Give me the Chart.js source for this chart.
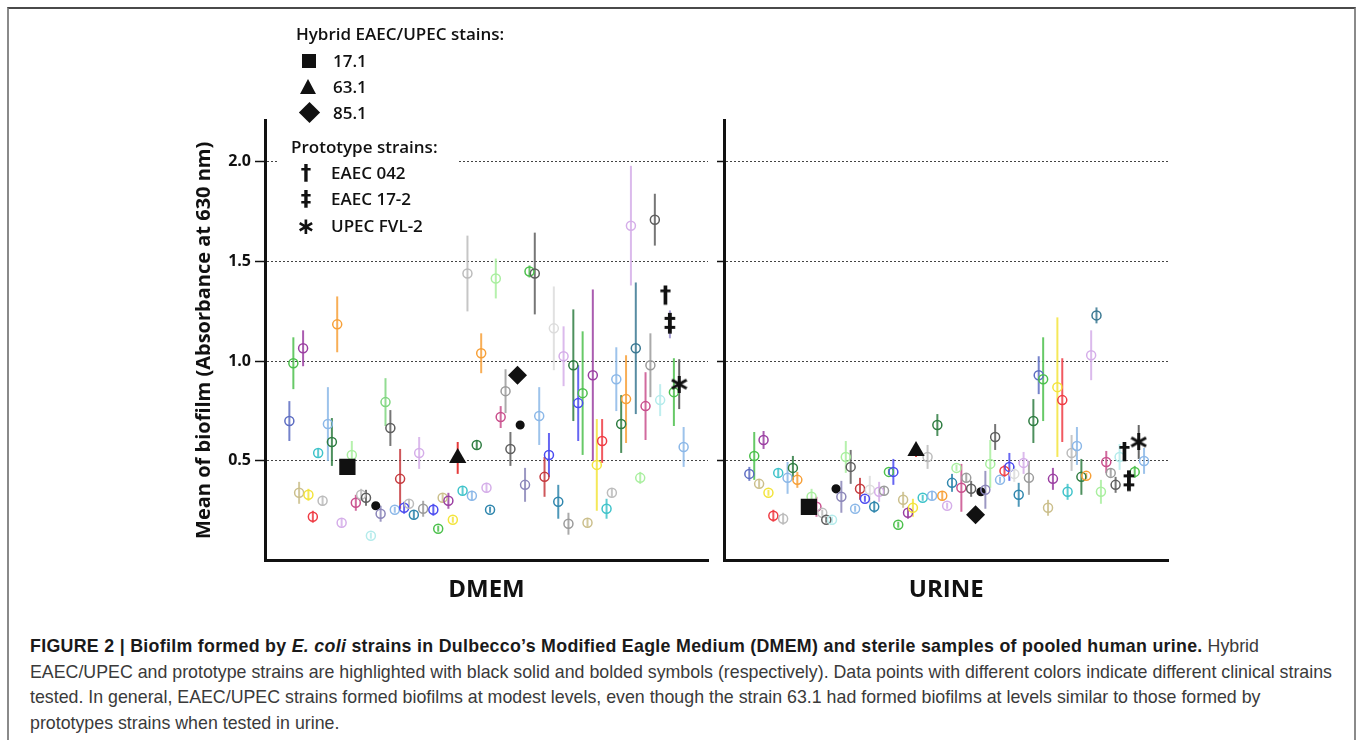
<!DOCTYPE html>
<html>
<head>
<meta charset="utf-8">
<script src="https://cdn.jsdelivr.net/npm/chart.js@4.4.1/dist/chart.umd.min.js"></script>
<style>
  body { margin: 0; background: #fff; width: 1357px; height: 740px; overflow: hidden; position: relative; font-family: 'Open Sans', sans-serif; }
  .frame { position: absolute; left: 7px; top: 7px; width: 1345px; height: 760px; border-top: 2px solid #4a4a4a; border-left: 2px solid #8a8a8a; border-right: 2px solid #8a8a8a; }
  canvas { position: absolute; }
  #dmem { left: 180px; top: 100px; }
  #urine { left: 712px; top: 100px; }
  .legend { position: absolute; left: 277px; top: 18px; width: 181px; height: 220px; background: #fff; }
  .lg { position: absolute; white-space: nowrap; font-weight: 600; font-size: 17px; line-height: 20px; color: #111; }
  .sym { position: absolute; font-family: 'DejaVu Sans', sans-serif; font-weight: bold; color: #111; line-height: 20px; text-align: center; width: 20px; }
  .sq { position: absolute; background: #111; width: 14px; height: 14px; }
  .tri { position: absolute; width: 0; height: 0; border-left: 8.5px solid transparent; border-right: 8.5px solid transparent; border-bottom: 15px solid #111; }
  .dia { position: absolute; background: #111; width: 15px; height: 15px; transform: rotate(45deg); }
  .caption { position: absolute; left: 30px; top: 634px; font-family: 'Liberation Sans', Arial, sans-serif; font-size: 17.8px; line-height: 25.5px; color: #3a3a3a; white-space: nowrap; }
  .caption b { color: #1a1a1a; letter-spacing: 0.3px; }
</style>
</head>
<body>
<div class="frame"></div>
<canvas id="dmem" width="550" height="520"></canvas>
<canvas id="urine" width="468" height="520"></canvas>

<div class="legend">
  <div class="lg" style="left:19px; top:6px;">Hybrid EAEC/UPEC stains:</div>
  <div class="sq" style="left:25px; top:36px;"></div>
  <div class="lg" style="left:56px; top:33px;">17.1</div>
  <div class="tri" style="left:23px; top:61px;"></div>
  <div class="lg" style="left:56px; top:59px;">63.1</div>
  <div class="dia" style="left:25px; top:87px;"></div>
  <div class="lg" style="left:56px; top:85px;">85.1</div>
  <div class="lg" style="left:14px; top:119px;">Prototype strains:</div>
  <div class="sym" style="left:19px; top:145px; font-size:21px;">†</div>
  <div class="lg" style="left:54px; top:145px;">EAEC 042</div>
  <div class="sym" style="left:19px; top:171px; font-size:21px;">‡</div>
  <div class="lg" style="left:54px; top:171px;">EAEC 17-2</div>
  <div class="sym" style="left:19px; top:198px; font-size:23px;">∗</div>
  <div class="lg" style="left:54px; top:198px;">UPEC FVL-2</div>
</div>

<div class="caption"><b>FIGURE 2 | Biofilm formed by <i>E. coli</i> strains in Dulbecco’s Modified Eagle Medium (DMEM) and sterile samples of pooled human urine.</b> Hybrid<br>EAEC/UPEC and prototype strains are highlighted with black solid and bolded symbols (respectively). Data points with different colors indicate different clinical strains<br>tested. In general, EAEC/UPEC strains formed biofilms at modest levels, even though the strain 63.1 had formed biofilms at levels similar to those formed by<br>prototypes strains when tested in urine.</div>

<script>
// y axis
const yTicks = [0.5, 1.0, 1.5, 2.0];

// clinical strains, DMEM (x = strain position along the panel, 0-100)
const dmemX = [5.5, 6.4, 7.7, 8.6, 9.8, 10.8, 12.0, 13.0, 14.2, 15.1, 16.3, 17.3, 19.6, 20.5, 21.7, 22.8, 23.9, 25.0, 26.1, 27.2,
  28.3, 29.3, 30.5, 31.4, 32.5, 33.6, 34.8, 35.7, 38.0, 39.1, 40.1, 41.4, 42.4, 44.6, 45.7, 46.7, 47.8, 48.8, 50.0, 50.8,
  52.1, 53.2, 54.3, 55.4, 57.6, 58.7, 59.7, 60.9, 61.9, 63.1, 64.1, 65.2, 66.2, 67.4, 68.5, 69.6, 70.7, 71.7, 72.8, 74.0,
  74.9, 76.1, 77.1, 78.3, 79.3, 80.4, 81.5, 82.6, 83.7, 84.7, 85.9, 87.0, 88.0, 89.2, 92.3, 94.5];
const dmemMean = [0.70, 0.99, 0.34, 1.065, 0.33, 0.22, 0.54, 0.30, 0.685, 0.595, 1.185, 0.19, 0.53, 0.29, 0.33, 0.315, 0.125, 0.275, 0.235, 0.795,
  0.665, 0.255, 0.41, 0.265, 0.285, 0.23, 0.54, 0.26, 0.255, 0.16, 0.315, 0.30, 0.205, 0.35, 1.44, 0.325, 0.58, 1.04, 0.365, 0.255,
  1.415, 0.72, 0.85, 0.56, 0.68, 0.38, 1.45, 1.44, 0.725, 0.42, 0.53, 1.165, 0.295, 1.025, 0.185, 0.98, 0.79, 0.84, 0.19, 0.93,
  0.48, 0.60, 0.26, 0.34, 0.91, 0.685, 0.81, 1.68, 1.065, 0.415, 0.775, 0.98, 1.71, 0.805, 0.845, 0.57];
const dmemErr = [0.10, 0.13, 0.055, 0.09, 0.03, 0.03, 0.02, 0.025, 0.185, 0.12, 0.14, 0.02, 0.07, 0.04, 0.03, 0.04, 0.015, 0, 0.04, 0.12,
  0.09, 0.015, 0.15, 0.03, 0.02, 0.02, 0.08, 0.04, 0.03, 0.015, 0.02, 0.04, 0.015, 0.02, 0.19, 0.025, 0.02, 0.10, 0.025, 0.015,
  0.10, 0.055, 0.11, 0.085, 0, 0.085, 0.03, 0.205, 0.145, 0.10, 0.11, 0.21, 0.085, 0.15, 0.055, 0.28, 0.19, 0.31, 0.02, 0.43,
  0.23, 0.11, 0.05, 0.02, 0.16, 0.145, 0.22, 0.30, 0.33, 0.03, 0.17, 0.16, 0.13, 0.08, 0.17, 0.10];
const dmemStrain = ['slate', 'green', 'khaki', 'purple', 'yellow', 'red', 'cyan', 'ltgray', 'ltblue', 'dkgreen', 'orange', 'lavender', 'ltgreen', 'magenta', 'ltgray', 'dkgray', 'palecyan', 'black', 'slatepurple', 'green2',
  'dkgray', 'ltblue', 'dkred', 'blue', 'ltgray', 'teal', 'lavender', 'gray', 'blue', 'green', 'khaki', 'purple', 'yellow', 'cyan', 'ltgray', 'ltblue', 'dkgreen', 'orange', 'lavender', 'teal',
  'ltgreen', 'magenta', 'gray', 'dkgray', 'black', 'slatepurple', 'green', 'dkgray', 'ltblue', 'dkred', 'blue', 'vltgray', 'teal', 'lavender', 'gray', 'dkgreen', 'blue', 'green', 'khaki', 'purple',
  'yellow', 'red', 'cyan', 'ltgray', 'ltblue', 'dkgreen', 'orange', 'lavender', 'steel', 'ltgreen', 'magenta', 'gray', 'dkgray', 'palecyan', 'green', 'ltblue'];

// clinical strains, urine
const urineX = [5.7, 6.8, 7.9, 8.9, 10.0, 11.1, 12.2, 13.3, 14.3, 15.5, 16.5, 19.7, 20.8, 22.1, 23.0, 24.3, 25.2, 26.4, 27.4, 28.5,
  29.5, 30.6, 31.7, 32.8, 33.8, 34.9, 36.0, 37.1, 38.1, 39.2, 40.3, 41.4, 42.5, 44.7, 45.8, 46.8, 48.0, 49.1, 50.2, 51.3,
  52.3, 53.4, 54.5, 55.6, 57.8, 58.8, 59.9, 61.0, 62.1, 63.1, 64.2, 65.3, 66.3, 67.4, 68.6, 69.6, 70.8, 71.8, 72.9, 74.0,
  75.0, 76.1, 77.3, 78.2, 79.4, 80.4, 81.5, 82.6, 83.8, 84.8, 86.0, 87.0, 88.1, 89.0, 92.4, 94.5];
const urineMean = [0.435, 0.525, 0.385, 0.605, 0.34, 0.225, 0.44, 0.21, 0.415, 0.465, 0.405, 0.32, 0.27, 0.24, 0.205, 0.205, 0.36, 0.32, 0.52, 0.47,
  0.26, 0.36, 0.31, 0.355, 0.27, 0.345, 0.35, 0.445, 0.445, 0.18, 0.305, 0.24, 0.265, 0.315, 0.52, 0.325, 0.68, 0.325, 0.275, 0.39,
  0.465, 0.365, 0.415, 0.36, 0.345, 0.355, 0.485, 0.62, 0.405, 0.45, 0.47, 0.435, 0.33, 0.49, 0.415, 0.70, 0.93, 0.91, 0.265, 0.41,
  0.87, 0.805, 0.345, 0.54, 0.575, 0.42, 0.425, 1.03, 1.23, 0.345, 0.495, 0.44, 0.38, 0.52, 0.445, 0.50];
const urineErr = [0.035, 0.12, 0.02, 0.045, 0.015, 0.03, 0.02, 0.03, 0.08, 0.06, 0.04, 0.04, 0.05, 0.015, 0.015, 0.015, 0, 0.08, 0.08, 0.085,
  0.015, 0.055, 0.015, 0.07, 0.03, 0.05, 0.02, 0.015, 0.065, 0.015, 0.04, 0.03, 0.045, 0.015, 0.06, 0.02, 0.055, 0.02, 0.015, 0.045,
  0.015, 0.12, 0.02, 0.04, 0, 0.095, 0.12, 0.065, 0.015, 0.03, 0.07, 0.04, 0.06, 0.055, 0.085, 0.11, 0.095, 0.21, 0.04, 0.055,
  0.35, 0.21, 0.04, 0.09, 0.095, 0.09, 0.015, 0.125, 0.04, 0.06, 0.055, 0.02, 0.04, 0.065, 0.03, 0.065];
const urineStrain = ['slate', 'green', 'khaki', 'purple', 'yellow', 'red', 'cyan', 'ltgray', 'ltblue', 'dkgreen', 'orange', 'ltgreen', 'magenta', 'ltgray', 'dkgray', 'palecyan', 'black', 'slatepurple', 'ltgreen', 'dkgray',
  'ltblue', 'dkred', 'blue', 'vltgray', 'teal', 'lavender', 'gray', 'green', 'blue', 'green', 'khaki', 'purple', 'yellow', 'cyan', 'ltgray', 'ltblue', 'dkgreen', 'orange', 'lavender', 'teal',
  'ltgreen', 'magenta', 'gray', 'dkgray', 'black', 'slatepurple', 'ltgreen', 'dkgray', 'ltblue', 'red', 'blue', 'vltgray', 'teal', 'lavender', 'gray', 'dkgreen', 'slate', 'green', 'khaki', 'purple',
  'yellow', 'red', 'cyan', 'ltgray', 'ltblue', 'dkgreen', 'orange', 'lavender', 'steel', 'ltgreen', 'magenta', 'gray', 'dkgray', 'palecyan', 'green', 'ltblue'];

// hybrid EAEC/UPEC strains
const hybridLabels = ['17.1', '63.1', '85.1'];
const hybridDmemX = [18.6, 43.5, 57.0];
const hybridDmem = [0.47, 0.515, 0.93];
const hybridDmemErr = [0, 0.08, 0];
const hybridUrineX = [19.1, 43.2, 56.6];
const hybridUrine = [0.27, 0.55, 0.23];
const hybridUrineErr = [0, 0.03, 0];

// prototype strains
const protoLabels = ['EAEC 042', 'EAEC 17-2', 'UPEC FVL-2'];
const protoDmemX = [90.4, 91.4, 93.5];
const protoDmem = [1.325, 1.185, 0.885];
const protoDmemErr = [0.03, 0.07, 0.125];
const protoUrineX = [90.1, 91.1, 93.3];
const protoUrine = [0.54, 0.395, 0.595];
const protoUrineErr = [0.03, 0.04, 0.085];

const palette = {
  slate: '#5d6dc2', green: '#4cc04c', green2: '#7fd67f', khaki: '#cbbf8c', purple: '#9b3fa2', yellow: '#f3e43c',
  red: '#ef3c44', cyan: '#3fc3ca', ltgray: '#bcbcbc', vltgray: '#dcdcdc', ltblue: '#8cb8e8', dkgreen: '#2f7d42',
  orange: '#f7a038', lavender: '#d5aee9', ltgreen: '#a9ef9f', magenta: '#c9508d', dkgray: '#5e5e5e', palecyan: '#b4ebeb',
  black: '#111111', slatepurple: '#8b86b9', dkred: '#c53a3e', blue: '#4b4bf0', teal: '#2f86ad', gray: '#9b9b9b', steel: '#3a7892'
};

Chart.defaults.font.family = "'Open Sans', sans-serif";

function glyph(ch, size) {
  const c = document.createElement('canvas');
  c.width = Math.ceil(size * 0.8);
  c.height = Math.ceil(size * 1.1);
  const g = c.getContext('2d');
  g.font = 'bold ' + size + 'px "DejaVu Sans"';
  g.fillStyle = '#111';
  g.textAlign = 'center';
  g.textBaseline = 'middle';
  g.fillText(ch, c.width / 2, c.height / 2);
  return c;
}

function asterisk(size) {
  const c = document.createElement('canvas');
  c.width = size; c.height = size;
  const g = c.getContext('2d');
  g.strokeStyle = '#111';
  g.lineWidth = 3;
  for (let k = 0; k < 3; k++) {
    const a = Math.PI / 2 + k * Math.PI / 3;
    g.beginPath();
    g.moveTo(size / 2 - Math.cos(a) * size / 2, size / 2 - Math.sin(a) * size / 2);
    g.lineTo(size / 2 + Math.cos(a) * size / 2, size / 2 + Math.sin(a) * size / 2);
    g.stroke();
  }
  return c;
}

const protoStyles = [glyph('†', 23), glyph('‡', 24), asterisk(17)];

// vertical error bars, drawn through the chart's own scales
const errorBars = {
  id: 'errorBars',
  beforeDatasetsDraw(chart) {
    const { ctx, scales: { x, y } } = chart;
    chart.data.datasets.forEach(ds => {
      if (!ds.errors) return;
      ctx.save();
      ctx.lineWidth = 2;
      ds.data.forEach((p, i) => {
        const e = ds.errors[i];
        if (!e) return;
        const px = x.getPixelForValue(p.x);
        ctx.strokeStyle = ds.errorColor[i];
        ctx.beginPath();
        ctx.moveTo(px, y.getPixelForValue(p.y - e));
        ctx.lineTo(px, y.getPixelForValue(p.y + e));
        ctx.stroke();
      });
      ctx.restore();
    });
  }
};

function alpha(hex, a) {
  const n = parseInt(hex.slice(1), 16);
  return 'rgba(' + (n >> 16) + ',' + ((n >> 8) & 255) + ',' + (n & 255) + ',' + a + ')';
}

function buildDatasets(xs, means, errs, strains, hx, hy, he, px, py, pe) {
  const toPts = (a, b) => a.map((v, i) => ({ x: v, y: b[i] }));
  return [
    {
      label: 'Prototype strains',
      data: toPts(px, py),
      errors: pe,
      errorColor: ['#333', '#a79fd3', '#666'],
      pointStyle: protoStyles,
      pointRadius: 8
    },
    {
      label: 'Hybrid EAEC/UPEC strains',
      data: toPts(hx, hy),
      errors: he,
      errorColor: ['#111', '#e53a3a', '#111'],
      pointStyle: ['rect', 'triangle', 'rectRot'],
      pointRadius: [11.5, 10, 9.5],
      pointBackgroundColor: '#111',
      pointBorderColor: '#111',
      pointBorderWidth: 0
    },
    {
      label: 'Clinical strains',
      data: toPts(xs, means),
      errors: errs,
      errorColor: strains.map(s => alpha(palette[s], 0.85)),
      pointStyle: 'circle',
      pointRadius: strains.map(s => s === 'black' ? 3.8 : 4.5),
      pointBorderWidth: 1.5,
      pointBorderColor: strains.map(s => palette[s]),
      pointBackgroundColor: strains.map(s => s === 'black' ? '#111' : 'rgba(0,0,0,0)')
    }
  ];
}

function panelOptions(title, isLeft) {
  return {
    responsive: false,
    animation: false,
    events: [],
    showLine: false,
    layout: { padding: { top: 20, right: isLeft ? 22 : 8, bottom: 0, left: 0 } },
    plugins: { legend: { display: false }, tooltip: { enabled: false } },
    scales: {
      x: {
        type: 'linear', min: 0, max: 100,
        ticks: { display: false },
        grid: { display: false },
        border: { display: true, color: '#111', width: 3 },
        title: { display: true, text: title, color: '#111', font: { size: 24, weight: 'bold' }, padding: { top: 0, bottom: 15.6 } },
        afterFit: s => { s.height = 59.4; }
      },
      y: {
        type: 'linear', min: 0, max: 2.21,
        afterBuildTicks: s => { s.ticks = yTicks.map(v => ({ value: v })); },
        ticks: { display: isLeft, color: '#111', padding: 4, font: { size: 16, weight: 'bold' }, callback: v => v.toFixed(1) },
        grid: { color: '#444', lineWidth: 1, tickLength: isLeft ? 10 : 7, tickColor: '#111', tickWidth: 1.5 },
        border: { display: true, color: '#111', width: 3, dash: [2, 2] },
        title: { display: isLeft, text: 'Mean of biofilm (Absorbance at 630 nm)', color: '#111', font: { size: 20, weight: 'bold' }, padding: { top: 12, bottom: 0 } },
        afterFit: s => { s.width = isLeft ? 85 : 12; }
      }
    }
  };
}

new Chart(document.getElementById('dmem'), {
  type: 'scatter',
  data: { datasets: buildDatasets(dmemX, dmemMean, dmemErr, dmemStrain, hybridDmemX, hybridDmem, hybridDmemErr, protoDmemX, protoDmem, protoDmemErr) },
  options: panelOptions('DMEM', true),
  plugins: [errorBars]
});

new Chart(document.getElementById('urine'), {
  type: 'scatter',
  data: { datasets: buildDatasets(urineX, urineMean, urineErr, urineStrain, hybridUrineX, hybridUrine, hybridUrineErr, protoUrineX, protoUrine, protoUrineErr) },
  options: panelOptions('URINE', false),
  plugins: [errorBars]
});
</script>
</body>
</html>
